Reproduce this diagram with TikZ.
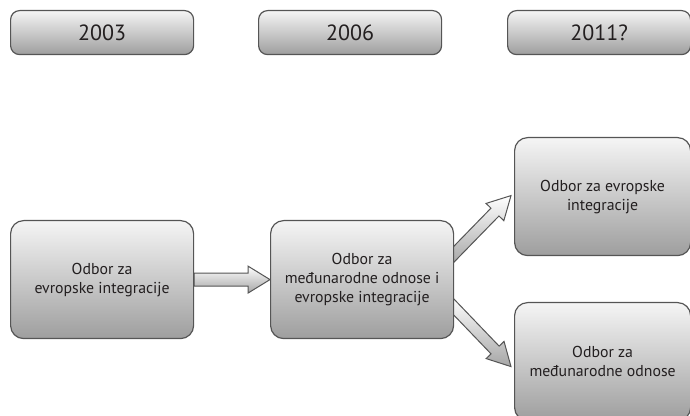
\documentclass[tikz,border=0pt]{standalone}
\usepackage{fontspec}
\setmainfont{PT Sans}
\usetikzlibrary{calc,backgrounds}
\definecolor{txt}{HTML}{231F20}
\definecolor{edge}{HTML}{555555}
\tikzset{
  box/.style={draw=edge, line width=0.6pt, top color=white!96!black, bottom color=black!38,
    align=center, text=txt, inner sep=0pt, anchor=north west},
  yearbox/.style={box, rounded corners=4.5pt, minimum width=91.5pt, minimum height=22pt,
    font=\fontsize{11}{13}\selectfont},
  orgbox/.style={box, rounded corners=6.5pt, minimum width=91.5pt, minimum height=59pt,
    font=\fontsize{7.9}{9.5}\selectfont},
  blockarrow/.style={draw=edge, line width=0.5pt, top color=white, bottom color=black!35}
}
\newcommand\blkarrow[5]{%
  \coordinate (hb) at ($(#2)!#5!(#1)$);
  \path[blockarrow] ($(#1)!#3!90:(#2)$) -- ($(hb)!#3!90:(#2)$) -- ($(hb)!#4!90:(#2)$)
    -- (#2) -- ($(hb)!#4!-90:(#2)$) -- ($(hb)!#3!-90:(#2)$) -- ($(#1)!#3!-90:(#2)$) -- cycle;
}
\begin{document}
\begin{tikzpicture}[x=0.5pt,y=-0.5pt]
\useasboundingbox (0,0) rectangle (690,416);
\clip (0,0) rectangle (690,416);
% years
\node[yearbox] (y1) at (10,10) {2003};
\node[yearbox] (y2) at (258,10) {2006};
\node[yearbox] (y3) at (507,10) {2011?};
% committees
\node[orgbox] (L) at (10,220) {Odbor za\\evropske integracije};
\node[orgbox] (M) at (270,220) {Odbor za\\međunarodne odnose i\\evropske integracije};
\node[orgbox, minimum width=88pt] (TR) at (514,137) {Odbor za evropske\\integracije};
\node[orgbox, minimum width=88pt] (BR) at (514,302) {Odbor za\\međunarodne odnose};
% arrows
\begin{scope}[on background layer]
  \coordinate (a1s) at (L.east |- M.west);
  \coordinate (a1e) at (M.west);
  \coordinate (a2s) at ($(M.east)+(-7,-18.5)$);
  \coordinate (a2e) at ($(TR.west)+(-3,-1)$);
  \coordinate (a3s) at ($(M.east)+(-7,20.5)$);
  \coordinate (a3e) at ($(BR.west)+(-3,5)$);
  \blkarrow{a1s}{a1e}{3.25pt}{6.75pt}{11pt}
  \blkarrow{a2s}{a2e}{2.8pt}{6.2pt}{11.5pt}
  \blkarrow{a3s}{a3e}{2.8pt}{6.2pt}{11.5pt}
\end{scope}
\end{tikzpicture}
\end{document}
